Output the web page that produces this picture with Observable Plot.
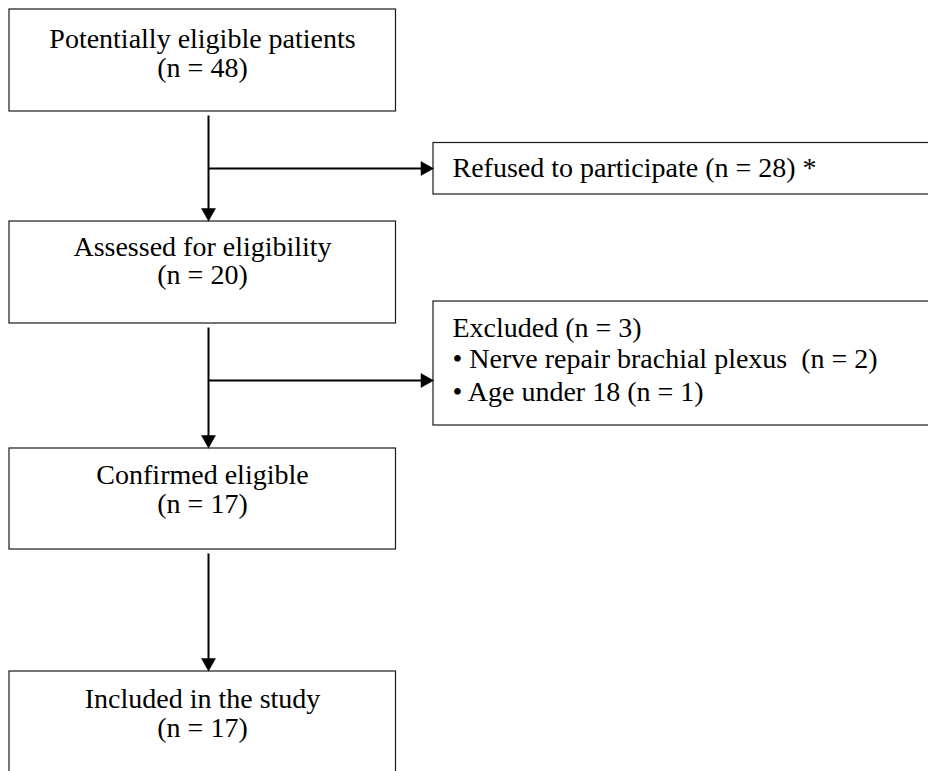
<!DOCTYPE html>
<html><head><meta charset="utf-8">
<script src="https://cdn.jsdelivr.net/npm/d3@7"></script>
<script src="https://cdn.jsdelivr.net/npm/@observablehq/plot@0.6"></script>
<style>html,body{margin:0;padding:0;background:#fff;overflow:hidden}</style>
</head><body><div id="chart"></div>
<script>
// ---- data ----
const stageLabels = ["Potentially eligible patients", "Assessed for eligibility", "Confirmed eligible", "Included in the study"];
const stageCounts = [48, 20, 17, 17];
const refusedLabel = "Refused to participate";
const refusedCount = 28;
const refusedNote = "*";
const excludedLabel = "Excluded";
const excludedCount = 3;
const exclusionReasons = ["Nerve repair brachial plexus\u00A0", "Age under 18"];
const exclusionCounts = [2, 1];

// ---- layout (pixel units of the 928x771 canvas) ----
const W = 928, H = 771;
const FONT = "'Liberation Serif', 'Times New Roman', serif";
const FS = 28;
const main = {x1: 9, x2: 395.5, cx: 202, flowX: 208};
const stageTop = [9, 221, 448, 671];
const stageBottom = [111, 323, 549, 790];
const line1 = [47.5, 255, 483, 707.5];
const line2 = [76, 283.5, 512, 736];
const side = {x1: 433, x2: 960, textX: 452};
const refusedBox = {y1: 142.5, y2: 194, base: 176.5};
const excludedBox = {y1: 301, y2: 425, bases: [336.7, 367.5, 400]};
const connectors = [ // from stage i to stage i+1, with optional side branch
  {from: 0, branchY: 168},
  {from: 1, branchY: 380},
  {from: 2, branchY: null}
];
const gap = 4, headLen = 12.5, headHalf = 7;

const fmtN = n => `(n = ${n})`;

// boxes
const boxes = stageTop.map((t, i) => ({x1: main.x1, x2: main.x2, y1: t, y2: stageBottom[i]}))
  .concat([{x1: side.x1, x2: side.x2, y1: refusedBox.y1, y2: refusedBox.y2},
           {x1: side.x1, x2: side.x2, y1: excludedBox.y1, y2: excludedBox.y2}]);

// centered texts
const centerTexts = [];
stageLabels.forEach((s, i) => {
  centerTexts.push({x: main.cx, y: line1[i], text: s});
  centerTexts.push({x: main.cx, y: line2[i], text: fmtN(stageCounts[i])});
});
// left texts
const leftTexts = [
  {x: side.textX, y: refusedBox.base, text: `${refusedLabel} ${fmtN(refusedCount)} ${refusedNote}`},
  {x: side.textX, y: excludedBox.bases[0], text: `${excludedLabel} ${fmtN(excludedCount)}`},
  ...exclusionReasons.map((r, i) => ({x: side.textX, y: excludedBox.bases[i + 1], text: `\u2022 ${r} ${fmtN(exclusionCounts[i])}`}))
];

// connector lines and arrowheads
const segs = [];
const heads = [];
connectors.forEach((c, k) => {
  const yStart = stageBottom[c.from] + gap;
  const yTip = stageTop[c.from + 1] - 0.5;
  segs.push({x1: main.flowX, y1: yStart, x2: main.flowX, y2: yTip - headLen + 1});
  heads.push([[main.flowX, yTip], [main.flowX - headHalf, yTip - headLen], [main.flowX + headHalf, yTip - headLen], [main.flowX, yTip]].map(p => ({x: p[0], y: p[1], id: "d" + k})));
  if (c.branchY != null) {
    const xTip = side.x1;
    segs.push({x1: main.flowX, y1: c.branchY, x2: xTip - headLen + 1, y2: c.branchY});
    heads.push([[xTip, c.branchY], [xTip - headLen, c.branchY - headHalf], [xTip - headLen, c.branchY + headHalf], [xTip, c.branchY]].map(p => ({x: p[0], y: p[1], id: "r" + k})));
  }
});

const chart = Plot.plot({
  width: W, height: H,
  margin: 0,
  x: {domain: [0, W], axis: null},
  y: {domain: [0, H], reverse: true, axis: null},
  style: {fontFamily: FONT, background: "#fff"},
  marks: [
    Plot.rect(boxes, {x1: "x1", x2: "x2", y1: "y1", y2: "y2", fill: "white", stroke: "#1a1a1a", strokeWidth: 1.2, clip: true}),
    Plot.link(segs, {x1: "x1", y1: "y1", x2: "x2", y2: "y2", stroke: "black", strokeWidth: 2}),
    Plot.line(heads.flat(), {x: "x", y: "y", z: "id", fill: "black", stroke: "black", strokeWidth: 0.5, curve: "linear"}),
    Plot.text(centerTexts, {x: "x", y: "y", text: "text", textAnchor: "middle", lineAnchor: "bottom", fontSize: FS, fill: "black"}),
    Plot.text(leftTexts, {x: "x", y: "y", text: "text", textAnchor: "start", lineAnchor: "bottom", fontSize: FS, fill: "black"})
  ]
});
document.getElementById("chart").appendChild(chart);
</script>
</body></html>
